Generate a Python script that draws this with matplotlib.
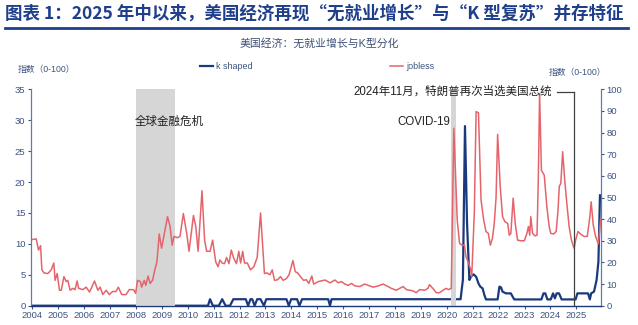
import matplotlib
matplotlib.use("Agg")
import matplotlib.pyplot as plt

plt.rcParams['font.family'] = ['Liberation Sans', 'Noto Sans CJK SC', 'DejaVu Sans']

# jobless index (left axis, 0-35), decimal year
jobless_t = [
    2003.99, 2004.15, 2004.24, 2004.32, 2004.37, 2004.45, 2004.60, 2004.73, 2004.83, 2004.88,
    2004.96, 2005.05, 2005.12, 2005.22, 2005.31, 2005.37, 2005.46, 2005.56, 2005.65, 2005.73,
    2005.79, 2005.95, 2006.08, 2006.21, 2006.40, 2006.53, 2006.62, 2006.72, 2006.85, 2006.97,
    2007.10, 2007.23, 2007.32, 2007.45, 2007.62, 2007.74, 2007.91, 2007.99, 2008.06, 2008.17,
    2008.22, 2008.32, 2008.38, 2008.47, 2008.55, 2008.64, 2008.73, 2008.81, 2008.90, 2008.99,
    2009.12, 2009.22, 2009.32, 2009.40, 2009.47, 2009.60, 2009.70, 2009.83, 2009.96, 2010.05,
    2010.12, 2010.22, 2010.31, 2010.40, 2010.55, 2010.65, 2010.73, 2010.86, 2010.96, 2011.08,
    2011.17, 2011.24, 2011.33, 2011.42, 2011.50, 2011.59, 2011.68, 2011.78, 2011.88, 2011.97,
    2012.04, 2012.12, 2012.19, 2012.30, 2012.42, 2012.55, 2012.68, 2012.81, 2012.96, 2013.06,
    2013.17, 2013.26, 2013.35, 2013.47, 2013.58, 2013.68, 2013.81, 2013.91, 2014.06, 2014.15,
    2014.24, 2014.35, 2014.47, 2014.58, 2014.67, 2014.79, 2014.86, 2015.04, 2015.30, 2015.49,
    2015.68, 2015.81, 2015.93, 2016.06, 2016.19, 2016.32, 2016.45, 2016.64, 2016.83, 2017.02,
    2017.15, 2017.35, 2017.54, 2017.73, 2017.86, 2018.05, 2018.18, 2018.31, 2018.44, 2018.56,
    2018.69, 2018.82, 2018.95, 2019.14, 2019.27, 2019.33, 2019.46, 2019.59, 2019.72, 2019.85,
    2019.97, 2020.06, 2020.17, 2020.27, 2020.40, 2020.49, 2020.58, 2020.68, 2020.74, 2020.83,
    2020.91, 2020.96, 2021.06, 2021.13, 2021.22, 2021.32, 2021.42, 2021.51, 2021.60, 2021.68,
    2021.76, 2021.83, 2021.90, 2021.96, 2022.06, 2022.15, 2022.24, 2022.35, 2022.41, 2022.47,
    2022.56, 2022.64, 2022.73, 2022.86, 2022.99, 2023.09, 2023.15, 2023.20, 2023.24, 2023.31,
    2023.40, 2023.48, 2023.53, 2023.58, 2023.65, 2023.76, 2023.86, 2023.95, 2024.01, 2024.12,
    2024.22, 2024.29, 2024.34, 2024.40, 2024.47, 2024.55, 2024.63, 2024.72, 2024.81, 2024.91,
    2024.97, 2025.06, 2025.16, 2025.29, 2025.42, 2025.52, 2025.57, 2025.65, 2025.74, 2025.85,
    2025.93,
]
jobless = [
    10.7, 10.8, 9.0, 9.7, 5.8, 5.3, 5.2, 5.8, 6.9, 4.1,
    5.2, 2.5, 2.5, 4.7, 3.9, 4.1, 2.5, 2.8, 2.6, 4.0,
    2.8, 2.6, 3.0, 2.2, 4.0, 2.5, 3.0, 1.8, 2.5, 1.8,
    2.3, 2.3, 3.0, 1.8, 1.8, 2.6, 2.6, 2.0, 4.1, 3.9,
    3.0, 4.1, 3.3, 4.8, 3.6, 4.1, 5.8, 7.1, 11.6, 9.3,
    12.2, 14.4, 12.8, 9.8, 11.2, 11.0, 11.2, 14.9, 11.7, 8.8,
    11.2, 14.6, 12.8, 8.8, 18.6, 10.6, 8.8, 8.8, 10.6, 7.1,
    6.3, 7.4, 6.9, 6.8, 7.8, 6.8, 9.0, 7.6, 6.8, 8.8,
    6.9, 8.8, 6.9, 6.9, 5.8, 6.3, 7.8, 15.0, 5.2, 5.3,
    5.0, 5.8, 4.1, 4.2, 4.7, 4.1, 4.4, 5.0, 7.3, 5.5,
    5.3, 4.7, 4.1, 4.2, 3.6, 4.8, 3.5, 3.9, 4.15, 3.7,
    4.15, 3.7, 3.9, 3.5, 3.3, 3.6, 3.2, 3.1, 3.5, 3.2,
    3.0, 3.2, 3.5, 3.1, 2.8, 2.5, 2.8, 3.1, 2.6, 2.5,
    2.4, 2.1, 2.6, 2.5, 2.8, 3.4, 2.8, 2.1, 2.1, 2.5,
    2.8, 2.6, 2.8, 28.7, 13.9, 10.1, 9.8, 9.8, 7.9, 7.0,
    6.0, 4.7, 14.9, 31.4, 31.2, 17.1, 13.9, 12.0, 11.7, 9.8,
    10.9, 13.3, 17.5, 27.7, 19.3, 14.4, 13.6, 13.3, 11.4, 11.7,
    17.4, 13.3, 10.6, 10.5, 10.5, 11.7, 12.8, 11.4, 14.4, 11.7,
    11.3, 11.4, 20.3, 34.3, 21.9, 21.1, 16.0, 12.8, 11.7, 11.6,
    12.0, 15.4, 19.3, 19.8, 24.9, 20.3, 16.6, 12.8, 10.6, 9.3,
    10.6, 12.0, 11.6, 11.2, 11.2, 14.4, 16.8, 13.1, 11.2, 10.0,
    13.9,
]

# k shaped index (right axis, 0-100)
kshaped_t = [
    2003.99, 2008.81, 2008.90, 2008.99, 2010.78, 2010.86, 2010.97, 2011.20, 2011.33, 2011.46,
    2011.63, 2011.76, 2012.24, 2012.33, 2012.42, 2012.49, 2012.58, 2012.68, 2012.81, 2012.94,
    2013.03, 2013.81, 2013.90, 2013.99, 2014.22, 2014.31, 2014.41, 2015.42, 2015.49, 2015.55,
    2020.53, 2020.62, 2020.70, 2020.78, 2020.87, 2020.93, 2021.03, 2021.13, 2021.22, 2021.29,
    2021.38, 2021.45, 2021.51, 2021.96, 2022.03, 2022.09, 2022.15, 2022.28, 2022.47, 2022.60,
    2023.65, 2023.73, 2023.80, 2023.88, 2024.01, 2024.10, 2024.17, 2024.24, 2024.33, 2024.43,
    2024.97, 2025.04, 2025.45, 2025.52, 2025.57, 2025.68, 2025.78, 2025.85, 2025.91,
]
kshaped = [
    0, 0, 3, 0, 0, 3, 0, 0, 3, 0,
    0, 3, 3, 0, 3, 3, 0, 3, 3, 0,
    3, 3, 0, 3, 3, 0, 3, 3, 0, 3,
    3, 12, 83, 38, 11.9, 13.4, 14.5, 13.4, 10.3, 8.8,
    8, 4.9, 2.9, 2.9, 8.8, 8.5, 6.5, 5.7, 5.7, 2.9,
    2.9, 5.7, 5.7, 2.9, 2.9, 5.7, 3.4, 5.7, 5.7, 2.9,
    2.9, 5.7, 5.7, 2.9, 5.7, 6.5, 11.9, 20.3, 51,
]

years = list(range(2004, 2026))
left_ticks = [0, 5, 10, 15, 20, 25, 30, 35]
right_ticks = [0, 10, 20, 30, 40, 50, 60, 70, 80, 90, 100]

red = '#E5646C'
navy = '#1B3A7E'
axis_col = '#5A7BB5'
lab_col = '#3D5480'

fig = plt.figure(figsize=(6.38, 3.25), dpi=100)

# title + underline
fig.text(0.008, 0.957, '图表 1：2025 年中以来，美国经济再现“无就业增长”与“K 型复苏”并存特征',
         fontsize=12.6, fontweight='bold', color='#1F3F8C', va='center', ha='left',
         family=['Noto Sans CJK SC', 'DejaVu Sans'])
fig.add_artist(plt.Line2D([0.008, 0.985], [0.913, 0.913], color='#1F3F8C', lw=2))

fig.text(0.5, 0.868, '美国经济：无就业增长与K型分化', fontsize=7.8, color='#3D4F75',
         ha='center', va='center')

ax = fig.add_axes([31 / 638, 1 - 305.7 / 325, 570 / 638, 216.4 / 325])
ax2 = ax.twinx()

ax.axvspan(2008.0, 2009.5, color='#D6D6D6', lw=0, zorder=0)
ax.axvspan(2020.17, 2020.36, color='#D6D6D6', lw=0, zorder=0)

ln1, = ax2.plot(kshaped_t, kshaped, color=navy, lw=1.6, label='k shaped', zorder=3)
ln2, = ax.plot(jobless_t, jobless, color=red, lw=1.1, label='jobless', zorder=2)

# trump re-election marker
ax.plot([2024.92, 2024.92], [0, 34.6], color='#404040', lw=0.9, zorder=4)
ax.plot([2024.27, 2024.92], [34.6, 34.6], color='#404040', lw=0.9, zorder=4)
ax.text(2024.08, 34.6, '2024年11月，特朗普再次当选美国总统', fontsize=8.3, ha='right',
        va='center', color='#222222')
ax.text(2020.15, 29.7, 'COVID-19', fontsize=8.3, ha='right', va='center', color='#222222')
ax.text(2007.96, 29.7, '全球金融危机', fontsize=8.3, ha='left', va='center', color='#222222')

ax.set_xlim(2003.95, 2025.95)
ax.set_ylim(0, 35)
ax2.set_ylim(0, 100)
ax.set_xticks(years)
ax.set_xticklabels([str(y) for y in years])
ax.set_yticks(left_ticks)
ax2.set_yticks(right_ticks)

ax.set_zorder(ax2.get_zorder() + 1)
ax.patch.set_visible(False)

for a in (ax, ax2):
    a.spines['top'].set_visible(False)
    a.tick_params(labelsize=6.8, colors=lab_col, length=2.5, width=0.8, pad=1.5)
    for s in ('left', 'right', 'bottom'):
        a.spines[s].set_color(axis_col)
        a.spines[s].set_linewidth(0.9)
ax.spines['right'].set_visible(False)
ax2.spines['left'].set_visible(False)
ax.spines['bottom'].set_color(navy)

fig.text(0.028, 0.785, '指数（0-100）', fontsize=6.3, color=lab_col, ha='left', va='center')
fig.text(0.95, 0.778, '指数（0-100）', fontsize=6.3, color=lab_col, ha='right', va='center')

fig.legend([ln1, ln2], ['k shaped', 'jobless'], loc='center', bbox_to_anchor=(0.497, 0.795),
           ncol=2, frameon=False, fontsize=6.5, handlelength=1.5, handletextpad=0.3,
           columnspacing=15.2, labelcolor=lab_col)

fig.savefig('out.png', dpi=100)
